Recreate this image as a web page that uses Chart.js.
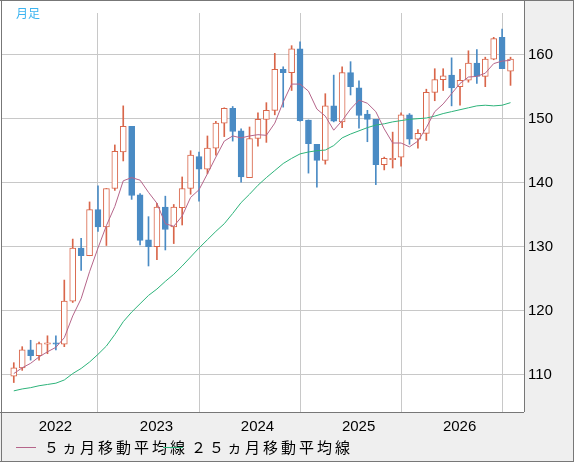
<!DOCTYPE html>
<html><head><meta charset="utf-8">
<script src="https://cdn.jsdelivr.net/npm/chart.js@4"></script>
<style>html,body{margin:0;padding:0;background:#fff}canvas{display:block}</style>
</head><body><canvas id="c" width="574" height="462" style="width:574px;height:462px"></canvas>
<script>
const months = ["2021-09","2021-10","2021-11","2021-12","2022-01","2022-02","2022-03","2022-04","2022-05","2022-06","2022-07","2022-08","2022-09","2022-10","2022-11","2022-12","2023-01","2023-02","2023-03","2023-04","2023-05","2023-06","2023-07","2023-08","2023-09","2023-10","2023-11","2023-12","2024-01","2024-02","2024-03","2024-04","2024-05","2024-06","2024-07","2024-08","2024-09","2024-10","2024-11","2024-12","2025-01","2025-02","2025-03","2025-04","2025-05","2025-06","2025-07","2025-08","2025-09","2025-10","2025-11","2025-12","2026-01","2026-02","2026-03","2026-04","2026-05","2026-06","2026-07","2026-08"];
const openV = [109.8,111.1,113.9,113.0,114.8,114.9,114.8,121.5,129.8,128.6,135.8,133.1,139.1,144.8,148.8,138.1,131.1,130.0,136.2,133.1,136.1,139.1,144.1,142.1,145.4,149.3,151.6,148.1,140.8,146.9,149.9,151.3,157.7,157.2,160.9,149.8,146.0,143.5,152.0,149.5,157.2,154.8,150.7,149.9,142.8,143.6,144.0,150.6,146.8,147.7,154.1,156.1,156.8,155.0,156.0,158.7,156.6,159.3,162.7,157.4];
const highV = [111.9,114.4,115.4,115.1,116.1,116.1,124.8,131.2,131.3,137.0,139.5,139.1,145.9,152.0,148.8,138.3,134.7,136.8,137.9,136.6,140.9,145.0,144.8,147.3,149.6,151.7,151.9,148.4,148.7,150.9,152.5,160.2,158.1,161.4,162.0,149.8,146.0,153.9,156.8,158.1,158.9,155.9,151.3,149.9,144.0,147.9,150.9,150.8,148.3,154.6,157.8,157.8,159.5,157.7,160.6,160.8,159.6,162.7,164.0,159.6];
const lowV = [108.8,110.7,112.3,112.3,113.3,113.9,114.4,121.3,126.3,128.6,132.4,130.2,138.8,143.4,137.4,130.3,127.0,128.0,129.5,130.5,133.4,138.2,137.1,141.4,144.3,147.2,146.5,140.1,140.8,145.7,146.3,150.6,151.8,154.4,149.6,141.5,139.3,142.9,149.5,148.6,153.7,148.5,146.4,139.7,142.0,142.3,142.6,146.0,145.4,146.6,152.8,154.4,152.0,152.1,155.7,155.5,155.0,159.2,157.8,155.2];
const closeV = [111.1,113.9,113.0,114.9,114.9,114.8,121.5,129.8,128.6,135.8,133.1,139.1,144.9,148.8,138.0,131.0,130.0,136.2,132.7,136.2,139.1,144.3,142.1,145.4,149.3,151.6,148.0,140.9,146.9,149.9,151.3,157.7,157.2,160.9,149.7,146.1,143.5,152.0,149.6,157.2,155.0,150.5,149.9,142.8,143.8,143.8,150.6,146.8,147.7,154.1,156.1,156.7,154.8,156.0,158.7,156.6,159.3,162.5,157.8,159.3];
const ma5 = [110.2,111.1,111.8,112.8,113.6,114.3,115.8,119.2,121.9,126.1,129.8,133.3,136.3,140.3,140.8,140.4,138.5,136.8,133.6,133.2,134.8,137.7,138.9,141.4,144.0,146.5,147.3,147.0,147.3,147.5,147.4,149.3,152.6,155.4,155.4,154.3,151.5,150.4,148.2,149.7,151.5,152.9,152.4,151.1,148.4,146.2,146.2,145.6,146.5,148.6,151.1,152.3,153.9,155.5,156.5,156.6,157.1,158.6,159.0,159.1];
const ma25 = [107.5,107.8,108.0,108.3,108.5,108.7,109.2,110.2,111.0,112.0,113.2,114.5,116.3,118.3,119.8,121.1,122.4,123.4,124.6,125.7,127.0,128.4,129.8,131.1,132.4,133.6,135.2,136.9,138.2,139.6,140.8,141.9,143.0,143.8,144.5,144.8,145.0,145.1,145.8,147.0,147.6,148.1,148.6,149.0,149.2,149.5,149.7,149.9,150.0,150.1,150.4,150.8,151.1,151.4,151.7,152.0,152.1,152.0,152.1,152.5];
const yTicks = [110,120,130,140,150,160];
const legendLabels = ["５ヵ月移動平均線","２５ヵ月移動平均線"];
const periodLabel = "月足";

const UP = '#d9664a', DOWN = '#4a8bc4';
const up = closeV.map((c,i)=>c>=openV[i]);
const bodies = months.map((m,i)=>{let a=Math.min(openV[i],closeV[i]),b=Math.max(openV[i],closeV[i]);if(b-a<0.2){b=a+0.2;}return {x:i,y:[a,b]};});
const wicks = months.map((m,i)=>({x:i,y:[lowV[i],highV[i]]}));
const yearTicks = months.map((m,i)=>m.endsWith('-01')?i:null).filter(v=>v!==null);

const panel = {id:'panel',
 beforeDraw(ch){const g=ch.ctx,a=ch.chartArea;g.save();g.fillStyle='#efefef';
  g.fillRect(a.right,0,574-a.right,462);g.fillRect(0,a.bottom,574,462-a.bottom);g.restore();},
 afterDraw(ch){const g=ch.ctx,a=ch.chartArea;g.save();
  g.strokeStyle='#777';g.lineWidth=1;
  g.beginPath();g.moveTo(1.5,0);g.lineTo(1.5,462);g.moveTo(0,0.5);g.lineTo(574,0.5);
  g.moveTo(0,a.bottom+0.5);g.lineTo(a.right,a.bottom+0.5);g.moveTo(a.right+0.5,0);g.lineTo(a.right+0.5,a.bottom);
  g.moveTo(0,461.5);g.lineTo(574,461.5);g.moveTo(573.5,0);g.lineTo(573.5,462);g.stroke();
  g.fillStyle='#3cb4f0';g.font='12px "Noto Sans CJK JP"';g.textBaseline='middle';g.fillText(periodLabel,16,13);
  g.font='15px "Noto Sans CJK JP"';g.fillStyle='#000';
  const cols=['#b5658a','#2db37a'],xs=[16,163];
  legendLabels.forEach((t,k)=>{g.strokeStyle=cols[k];g.beginPath();g.moveTo(xs[k],447.5);g.lineTo(xs[k]+20,447.5);g.stroke();
   g.fillText(t.split('').join('\u2009'),xs[k]+28,447);});
  g.restore();}};

new Chart(document.getElementById('c'),{
 type:'bar',
 data:{datasets:[
  {type:'line',data:ma5.map((v,i)=>({x:i,y:v})),borderColor:'#b5658a',borderWidth:1,pointRadius:0,order:0},
  {type:'line',data:ma25.map((v,i)=>({x:i,y:v})),borderColor:'#2db37a',borderWidth:1,pointRadius:0,order:0},
  {data:bodies,backgroundColor:up.map(u=>u?'#ffffff':DOWN),borderColor:up.map(u=>u?UP:DOWN),borderWidth:1,borderSkipped:false,barThickness:6,grouped:false,order:1},
  {data:wicks,backgroundColor:up.map(u=>u?UP:DOWN),borderWidth:0,barThickness:1,grouped:false,order:2}
 ]},
 options:{responsive:false,animation:false,maintainAspectRatio:false,devicePixelRatio:1,
  layout:{padding:{left:2,top:1}},
  plugins:{legend:{display:false},tooltip:{enabled:false}},
  scales:{
   x:{type:'linear',min:-1.4,max:60.6,offset:false,
    afterBuildTicks(s){s.ticks=yearTicks.map(v=>({value:v}));},
    afterFit(s){s.height=50;},
    grid:{color:'#c8c8c8',drawTicks:false},border:{display:false},
    ticks:{padding:6,labelOffset:8,color:'#000',font:{family:'Liberation Sans',size:15},autoSkip:false,maxRotation:0,
     callback(v){return months[v]?months[v].slice(0,4):'';}}},
   y:{position:'right',min:104.2,max:166.5,
    afterBuildTicks(s){s.ticks=yTicks.map(v=>({value:v}));},
    afterFit(s){s.width=50;},
    grid:{color:'#c8c8c8',drawTicks:false},border:{display:false},
    ticks:{padding:4,autoSkip:false,color:'#000',font:{family:'Liberation Sans',size:15}}}
  }},
 plugins:[panel]});
</script></body></html>
